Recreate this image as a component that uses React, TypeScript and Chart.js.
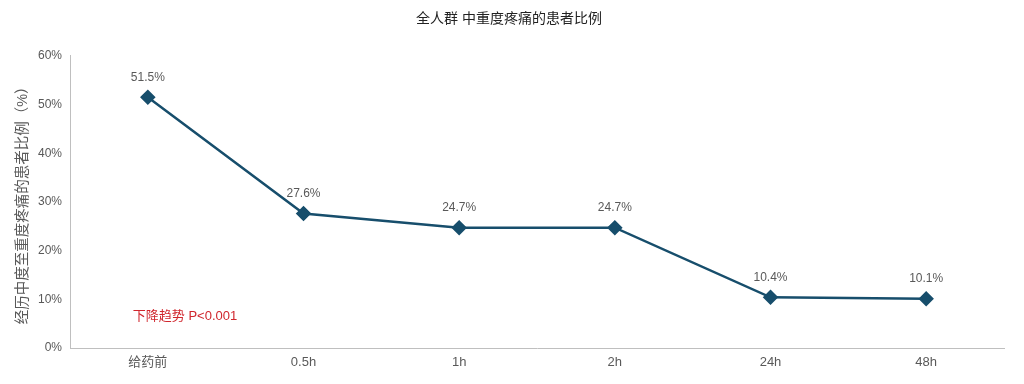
import React, { useEffect, useRef } from "react";
import { Chart, registerables } from "chart.js";

Chart.register(...registerables);

const categories = ["给药前", "0.5h", "1h", "2h", "24h", "48h"];
const values = [51.5, 27.6, 24.7, 24.7, 10.4, 10.1];
const dataLabels = ["51.5%", "27.6%", "24.7%", "24.7%", "10.4%", "10.1%"];
const yTicks = [0, 10, 20, 30, 40, 50, 60];
const chartTitle = "全人群 中重度疼痛的患者比例";
const yTitle = "经历中度至重度疼痛的患者比例（%）";
const annotationText = "下降趋势 P<0.001";
const annotationY = 6.5;

const FONT = "'Liberation Sans', 'Noto Sans CJK SC', sans-serif";
const LINE = "#174e6c";

const labelPlugin = {
  id: "pointLabels",
  afterDatasetsDraw(chart: any) {
    const ctx = chart.ctx;
    const meta = chart.getDatasetMeta(0);
    ctx.save();
    ctx.font = `12px ${FONT}`;
    ctx.fillStyle = "#595959";
    ctx.textAlign = "center";
    ctx.textBaseline = "bottom";
    meta.data.forEach((pt: any, i: number) => {
      ctx.fillText(dataLabels[i], pt.x, pt.y - 14);
    });
    const xs = chart.scales.x;
    const ys = chart.scales.y;
    ctx.font = `13px ${FONT}`;
    ctx.fillStyle = "#d0262d";
    ctx.textAlign = "left";
    ctx.textBaseline = "middle";
    ctx.fillText(annotationText, xs.getPixelForValue(0) - 15, ys.getPixelForValue(annotationY));
    ctx.restore();
  },
};

export default function App() {
  const ref = useRef<HTMLCanvasElement>(null);
  useEffect(() => {
    document.body.style.margin = "0";
    const chart = new Chart(ref.current as HTMLCanvasElement, {
      type: "line",
      data: {
        labels: categories,
        datasets: [
          {
            data: values,
            borderColor: LINE,
            backgroundColor: LINE,
            borderWidth: 2.5,
            pointStyle: "rectRot",
            pointRadius: 6,
            pointHoverRadius: 6,
            tension: 0,
          },
        ],
      },
      options: {
        animation: false,
        responsive: false,
        layout: { padding: { left: 14, right: 20, top: 0, bottom: 0 } },
        plugins: {
          legend: { display: false },
          tooltip: { enabled: false },
          title: {
            display: true,
            text: chartTitle,
            color: "#222",
            font: { size: 14, family: FONT, weight: "normal" },
            padding: { top: 11, bottom: 28 },
          },
        },
        scales: {
          x: {
            offset: true,
            grid: { display: false, drawTicks: false },
            border: { display: true, color: "#bfbfbf", width: 1 },
            ticks: { color: "#595959", font: { size: 13, family: FONT }, padding: 7 },
            afterFit(s: any) {
              s.height = 36;
            },
          },
          y: {
            min: 0,
            max: 60,
            afterBuildTicks(s: any) {
              s.ticks = yTicks.map((v) => ({ value: v }));
            },
            grid: { display: false, drawTicks: false },
            border: { display: true, color: "#bfbfbf", width: 1 },
            ticks: {
              color: "#595959",
              font: { size: 12, family: FONT },
              padding: 8,
              callback: (v: any) => `${v}%`,
            },
            title: {
              display: true,
              text: yTitle,
              color: "#595959",
              font: { size: 14.5, family: FONT },
              padding: 0,
            },
            afterFit(s: any) {
              s.width = 56;
            },
          },
        },
      },
      plugins: [labelPlugin],
    });
    return () => chart.destroy();
  }, []);
  return (
    <div style={{ width: 1024, height: 384, background: "#fff" }}>
      <canvas ref={ref} width={1024} height={384} />
    </div>
  );
}
